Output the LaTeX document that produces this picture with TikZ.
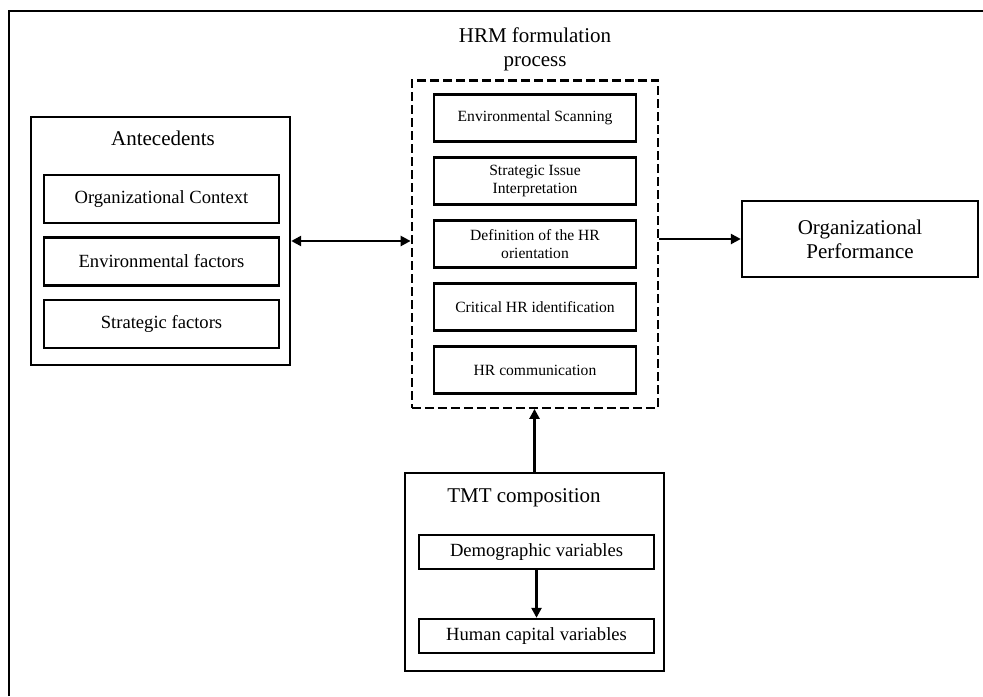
\documentclass[tikz,border=0pt]{standalone}
\usepackage{fontspec}
\setmainfont{Liberation Serif}
\usetikzlibrary{arrows.meta,positioning,fit}
\tikzset{
  blk/.style={draw, line width=1.2pt, align=center, inner sep=2pt},
  outbox/.style={blk, minimum width=129.5pt},
  inbox/.style={blk, minimum width=117.5pt, font=\fontsize{9.3}{11}\selectfont},
  stepbox/.style={blk, minimum width=101pt, minimum height=23.5pt,
                  font=\fontsize{7.8}{9}\selectfont},
  grp/.style={draw, line width=1.2pt, dash pattern=on 4.5pt off 2pt,
              inner xsep=10.5pt, inner ysep=6.5pt},
  ttl/.style={font=\fontsize{10.5}{12}\selectfont, align=center, inner sep=1pt},
  ar/.style={-{Triangle[length=5pt,width=5pt]}, line width=1.2pt},
  dar/.style={{Triangle[length=5pt,width=5pt]}-{Triangle[length=5pt,width=5pt]},
              line width=1.2pt},
}
\begin{document}
\begin{tikzpicture}[x=0.5pt, y=-0.5pt, node distance=6.8pt]
  \useasboundingbox (0,0) rectangle (983,696);
  \draw[line width=1.3pt] (9,696) |- (983,11);

  % HRM formulation process
  \node[stepbox] (s1) at (535,118) {Environmental Scanning};
  \node[stepbox, below=of s1] (s2) {Strategic Issue\\Interpretation};
  \node[stepbox, below=of s2] (s3) {Definition of the HR\\orientation};
  \node[stepbox, below=of s3] (s4) {Critical HR identification};
  \node[stepbox, below=of s4] (s5) {HR communication};
  \node[grp, fit=(s1)(s5)] (hrm) {};
  \node[ttl, above=3pt of hrm] (hrmT) {HRM formulation\\process};

  % Antecedents
  \node[outbox, minimum height=124pt] (ant) at (160.5,241) {};
  \node[ttl] (antT) at (163,138) {Antecedents};
  \node[inbox, minimum height=24pt] (a1) at (161.5,199) {Organizational Context};
  \node[inbox, minimum height=24pt, below=6pt of a1] (a2) {Environmental factors};
  \node[inbox, minimum height=24pt, below=6pt of a2] (a3) {Strategic factors};

  \node[blk, minimum width=118pt, minimum height=38pt,
        font=\fontsize{10.5}{12}\selectfont] (perf) at (860,239)
       {Organizational\\Performance};

  % TMT composition
  \node[outbox, minimum height=99pt] (tmt) at (534.5,572) {};
  \node[ttl] (tmtT) at (524,498) {TMT composition};
  \node[inbox, minimum height=17pt] (d1) at (536.5,552) {Demographic variables};
  \node[inbox, minimum height=17pt] (d2) at (536.5,636) {Human capital variables};

  \draw[dar] (ant.east) -- (ant.east -| hrm.west);
  \draw[ar] (hrm.east |- perf.west) -- (perf.west);
  \draw[ar] (tmt.north) -- (tmt.north |- hrm.south);
  \draw[ar] (d1) -- (d2);
\end{tikzpicture}
\end{document}
